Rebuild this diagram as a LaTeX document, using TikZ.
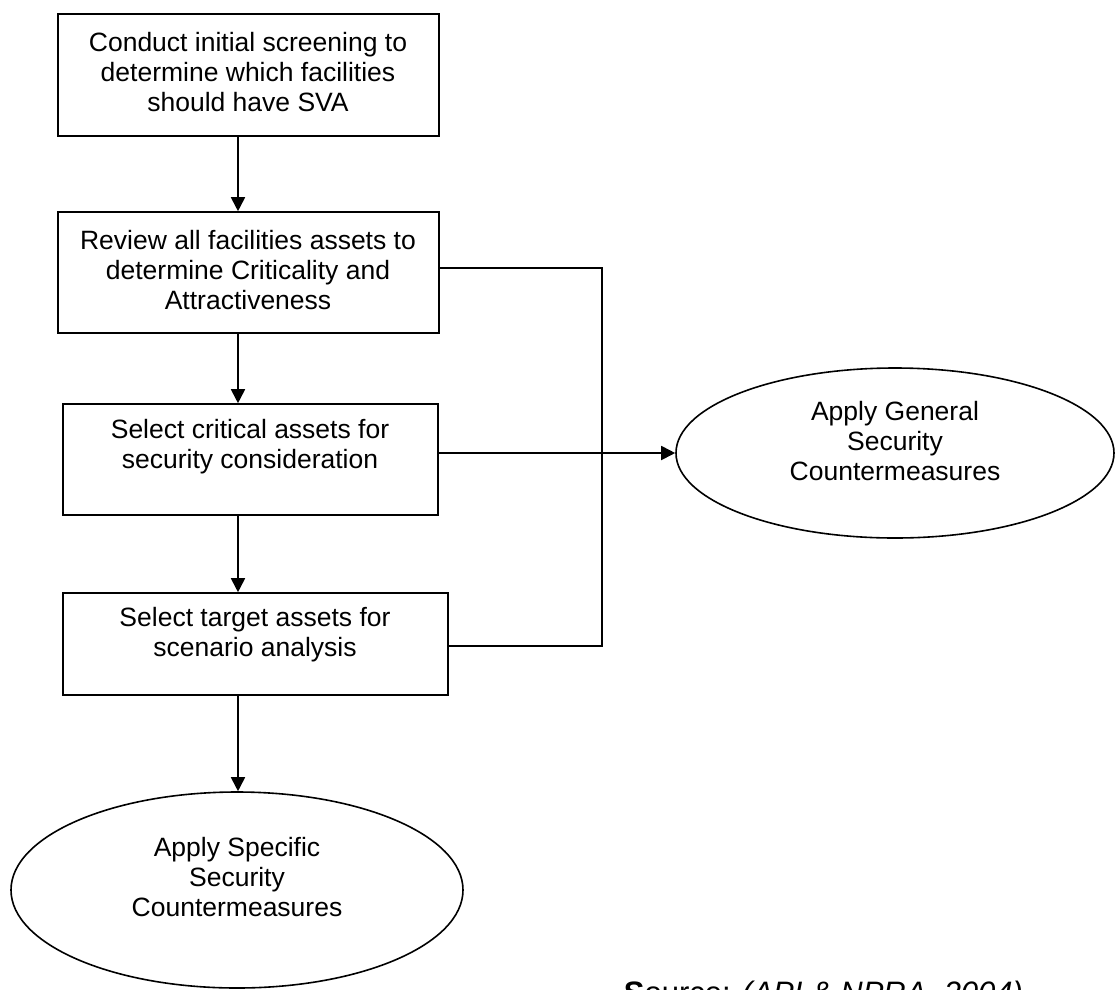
\documentclass[tikz,border=0pt]{standalone}
\usepackage{fontspec}
\setmainfont{Liberation Sans}
\usetikzlibrary{arrows.meta,shapes.geometric}
\begin{document}
\begin{tikzpicture}[x=1pt,y=-1pt,
  line width=1.8pt,
  stepbox/.style={draw, rectangle, inner sep=0pt, line width=1.6pt},
  oval/.style={draw, ellipse, inner sep=0pt, line width=1.6pt},
  txt/.style={align=center, inner sep=0pt, font=\fontsize{26.5pt}{30pt}\selectfont},
  arr/.style={-{Triangle[length=14pt,width=14pt]}},
  link/.style={line width=1.6pt}
]
\clip (0,0) rectangle (1117,989);
\useasboundingbox (0,0) rectangle (1117,989);

% process boxes
\node[stepbox, minimum width=381pt, minimum height=122pt] (b1) at (248.5,75) {};
\node[stepbox, minimum width=381pt, minimum height=121pt] (b2) at (248.5,272.5) {};
\node[stepbox, minimum width=375pt, minimum height=111pt] (b3) at (250.5,459.5) {};
\node[stepbox, minimum width=385pt, minimum height=102pt] (b4) at (255.5,644) {};

\node[txt] (t1) at (248,72) {Conduct initial screening to\\determine which facilities\\should have SVA};
\node[txt] (t2) at (248,270) {Review all facilities assets to\\determine Criticality and\\Attractiveness};
\node[txt] (t3) at (250,447) {Select critical assets for\\security consideration};
\node[txt] (t4) at (255,635) {Select target assets for\\scenario analysis};

% outcome ellipses
\node[oval, minimum width=438pt, minimum height=170pt] (ge) at (895,453) {};
\node[txt] (tge) at (895,441) {Apply General\\Security\\Countermeasures};
\node[oval, minimum width=452pt, minimum height=196pt] (se) at (237,890) {};
\node[txt] (tse) at (237,877) {Apply Specific\\Security\\Countermeasures};

% main flow
\coordinate (spine) at (238,0);
\draw[arr] (b1.south -| spine) -- (b2.north -| spine);
\draw[arr] (b2.south -| spine) -- (b3.north -| spine);
\draw[arr] (b3.south -| spine) -- (b4.north -| spine);
\draw[arr] (b4.south -| spine) -- (se.north -| spine);

% side bus into the general countermeasures
\coordinate (busTop) at (602,268);
\coordinate (busBot) at (602,646);
\draw[link] (b2.east |- busTop) -- (busTop) -- (busBot) -- (b4.east |- busBot);
\draw[arr] (b3.east |- ge.west) -- (ge.west);

% source line
\node[anchor=base west, inner sep=0pt, font=\fontsize{31pt}{36pt}\selectfont] (src) at (623,1003)
  {\textbf{S}ource: \textit{(API \& NPRA, 2004)}};
\end{tikzpicture}
\end{document}
